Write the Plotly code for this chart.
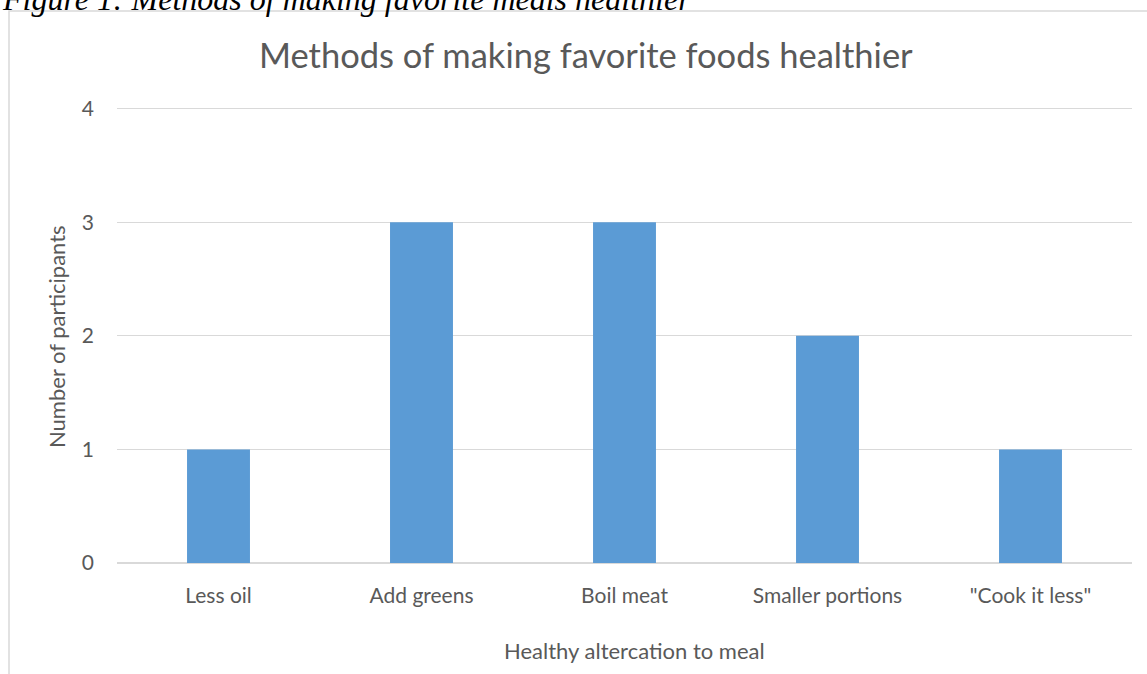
import plotly.graph_objects as go

categories = ["Less oil", "Add greens", "Boil meat", "Smaller portions", "\"Cook it less\""]
participants = [1, 3, 3, 2, 1]
y_ticks = [0, 1, 2, 3, 4]

W, H = 1147, 674
L, R, T, B = 117, 15, 103, 111
PW, PH = W - L - R, H - T - B

def px(x):
    return (x - L) / PW

def py(y):
    return (H - B - y) / PH

FONT = "Lato"
GREY = "#595959"

fig = go.Figure()
fig.add_trace(go.Bar(x=categories, y=participants, marker=dict(color="#5b9bd5", line=dict(width=0)),
                     width=0.31))

fig.update_layout(
    width=W, height=H,
    margin=dict(l=L, r=R, t=T, b=B),
    paper_bgcolor="white", plot_bgcolor="white",
    showlegend=False,
    font=dict(family=FONT, color=GREY),
    xaxis=dict(showgrid=False, showline=False, zeroline=False, ticks="",
               tickfont=dict(size=21, color=GREY, family=FONT), ticklabelstandoff=18),
    yaxis=dict(range=[0, 4.05], tickvals=y_ticks, showgrid=True, gridcolor="#d9d9d9", gridwidth=1.3,
               zeroline=True, zerolinecolor="#d9d9d9", zerolinewidth=1.5, showline=False, ticks="",
               tickfont=dict(size=21, color=GREY, family=FONT), ticklabelstandoff=22),
)

# chart border (extends past right/bottom edge)
fig.add_shape(type="rect", xref="paper", yref="paper",
              x0=px(9), x1=px(1160), y0=py(11), y1=py(690),
              line=dict(color="#d9d9d9", width=1.5), fillcolor="rgba(0,0,0,0)", layer="below")

annos = [
    dict(text="Methods of making favorite foods healthier", x=px(586), y=py(54),
         font=dict(size=34.5, color=GREY, family=FONT)),
    dict(text="Number of participants", x=px(56), y=py(337), textangle=-90,
         font=dict(size=22, color=GREY, family=FONT)),
    dict(text="Healthy altercation to meal", x=px(634), y=py(650),
         font=dict(size=22, color=GREY, family=FONT)),
    dict(text="<i>Figure 1: Methods of making favorite meals healthier</i>", x=px(0), y=py(-1),
         xanchor="left", font=dict(size=32, color="black", family="Liberation Serif")),
]
for a in annos:
    a.setdefault("xanchor", "center")
    fig.add_annotation(xref="paper", yref="paper", showarrow=False, yanchor="middle", **a)

fig.write_html("out.html")
